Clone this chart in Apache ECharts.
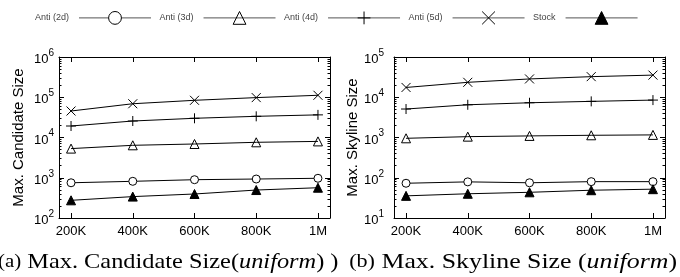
<!DOCTYPE html>
<html>
<head>
<meta charset="utf-8">
<script src="https://cdn.jsdelivr.net/npm/echarts@6/dist/echarts.min.js"></script>
<style>
html, body { margin: 0; padding: 0; background: #fff; }
#main { width: 680px; height: 277px; }
</style>
</head>
<body>
<div id="main"></div>
<script>
// data size in thousands
const sizes = [200, 400, 600, 800, 1000]
const xLabels = ['200K', '400K', '600K', '800K', '1M']
const seriesNames = ['Anti (2d)', 'Anti (3d)', 'Anti (4d)', 'Anti (5d)', 'Stock']

// (a) max candidate size
const candAnti2d = [750, 815, 895, 930, 970]
const candAnti3d = [5300, 6400, 6900, 7600, 8000]
const candAnti4d = [19300, 25700, 30000, 33600, 36500]
const candAnti5d = [45500, 69000, 84000, 98000, 112000]
const candStock = [275, 340, 395, 495, 565]

// (b) max skyline size
const skyAnti2d = [73, 79, 75, 80, 80]
const skyAnti3d = [955, 1050, 1095, 1135, 1160]
const skyAnti4d = [5100, 6500, 7300, 7900, 8500]
const skyAnti5d = [17500, 23500, 28500, 32500, 35500]
const skyStock = [35.5, 40, 43.5, 49, 52]

const yTicksA = [1e2, 1e3, 1e4, 1e5, 1e6]
const yTicksB = [1e1, 1e2, 1e3, 1e4, 1e5]

const FONT = 'Liberation Sans'
const SERIF = 'Liberation Serif'

// 2..9 inside each decade
function minorTicks(major) {
    let out = []
    for (let i = 0; i < major.length - 1; i++) {
        for (let k = 2; k <= 9; k++) out.push(major[i] * k)
    }
    return out
}

const symbols = [
    { symbol: 'circle', size: 8, style: { color: '#fff', borderColor: '#000', borderWidth: 1 } },
    { symbol: 'triangle', size: 9, style: { color: 'rgba(255,255,255,0)', borderColor: '#000', borderWidth: 1 } },
    { symbol: 'path://M5,0L5,10M0,5L10,5', size: 10, style: { color: 'rgba(0,0,0,0)', borderColor: '#000', borderWidth: 1 } },
    { symbol: 'path://M0,0L10,10M10,0L0,10', size: 9, style: { color: 'rgba(0,0,0,0)', borderColor: '#000', borderWidth: 1 } },
    { symbol: 'triangle', size: 9, style: { color: '#000', borderColor: '#000', borderWidth: 1 } }
]

function xAxes(gridIndex) {
    let base = {
        gridIndex: gridIndex, type: 'value', min: 161, max: 1039,
        splitLine: { show: false },
        axisLine: { show: true, onZero: false, lineStyle: { color: '#000', width: 1 } },
        axisTick: { show: true, inside: true, length: 5, customValues: sizes, lineStyle: { color: '#000' } }
    }
    return [
        Object.assign({}, base, {
            position: 'bottom',
            axisLabel: {
                show: true, customValues: sizes, margin: 7, color: '#000', fontFamily: FONT, fontSize: 13,
                formatter: v => xLabels[sizes.indexOf(v)]
            }
        }),
        Object.assign({}, base, { position: 'top', axisLabel: { show: false } })
    ]
}

function yAxes(gridIndex, ticks, name, nameGap, labelMargin) {
    let base = {
        gridIndex: gridIndex, type: 'log', logBase: 10, min: ticks[0], max: ticks[ticks.length - 1],
        splitLine: { show: false }, minorSplitLine: { show: false }
    }
    let major = { show: true, inside: true, length: 5, customValues: ticks, lineStyle: { color: '#000' } }
    let minor = { show: true, inside: true, length: 2.5, customValues: minorTicks(ticks), lineStyle: { color: '#000' } }
    let line = { show: true, lineStyle: { color: '#000', width: 1 } }
    return [
        Object.assign({}, base, {
            position: 'left', axisLine: line, axisTick: major,
            name: name, nameLocation: 'middle', nameGap: nameGap,
            nameTextStyle: { fontFamily: FONT, fontSize: 15, color: '#000' },
            axisLabel: {
                show: true, customValues: ticks, margin: labelMargin,
                formatter: v => '{b|10}{s|' + Math.round(Math.log10(v)) + '}',
                rich: {
                    b: { fontFamily: FONT, fontSize: 13, color: '#000', lineHeight: 18, verticalAlign: 'bottom' },
                    s: { fontFamily: FONT, fontSize: 10, color: '#000', lineHeight: 10, verticalAlign: 'top' }
                }
            }
        }),
        Object.assign({}, base, { position: 'left', axisLine: { show: false }, axisTick: minor, axisLabel: { show: false } }),
        Object.assign({}, base, { position: 'right', axisLine: line, axisTick: major, axisLabel: { show: false } }),
        Object.assign({}, base, { position: 'right', axisLine: { show: false }, axisTick: minor, axisLabel: { show: false } })
    ]
}

function makeSeries(lists, xIndex, yIndex) {
    return lists.map((vals, i) => ({
        name: seriesNames[i],
        type: 'line',
        xAxisIndex: xIndex,
        yAxisIndex: yIndex,
        data: sizes.map((s, j) => [s, vals[j]]),
        symbol: symbols[i].symbol,
        symbolSize: symbols[i].size,
        showAllSymbol: true,
        itemStyle: symbols[i].style,
        lineStyle: { color: '#000', width: 1 },
        emphasis: { disabled: true },
        z: 3
    }))
}

// captions are a bit wider than plain Times, stretch them horizontally
function caption(text, x, align, sx) {
    return {
        type: 'text',
        x: x, y: 262,
        scaleX: sx,
        style: {
            text: text,
            align: align,
            verticalAlign: 'middle',
            fontFamily: SERIF, fontSize: 21, fill: '#000',
            rich: {
                l: { fontFamily: SERIF, fontSize: 18, fill: '#000' },
                i: { fontFamily: SERIF, fontSize: 21, fontStyle: 'italic', fill: '#000' }
            }
        }
    }
}

var myChart = echarts.init(document.getElementById('main'))

var option = {
    animation: false,
    backgroundColor: '#fff',
    graphic: [
        caption('{l|(a)} Max. Candidate Size({i|uniform}) )', -2, 'left', 1.16),
        caption('{l|(b)} Max. Skyline Size ({i|uniform})', 677, 'right', 1.23)
    ],
    legend: {
        data: seriesNames,
        left: 30, top: 6,
        itemWidth: 72, itemHeight: 16, itemGap: 8,
        align: 'right',
        selectedMode: false,
        textStyle: { fontFamily: FONT, fontSize: 9, color: '#444', padding: [0, 5, 0, 0] },
        itemStyle: { borderWidth: 1 },
        lineStyle: { color: '#555', width: 1 }
    },
    grid: [
        { left: 59, top: 57, width: 271, height: 161 },
        { left: 394, top: 57, width: 271, height: 161 }
    ],
    xAxis: xAxes(0).concat(xAxes(1)),
    yAxis: yAxes(0, yTicksA, 'Max. Candidate Size', 33, 5)
        .concat(yAxes(1, yTicksB, 'Max. Skyline Size', 29, 10)),
    series: makeSeries([candAnti2d, candAnti3d, candAnti4d, candAnti5d, candStock], 0, 0)
        .concat(makeSeries([skyAnti2d, skyAnti3d, skyAnti4d, skyAnti5d, skyStock], 2, 4))
}

myChart.setOption(option)
</script>
</body>
</html>
